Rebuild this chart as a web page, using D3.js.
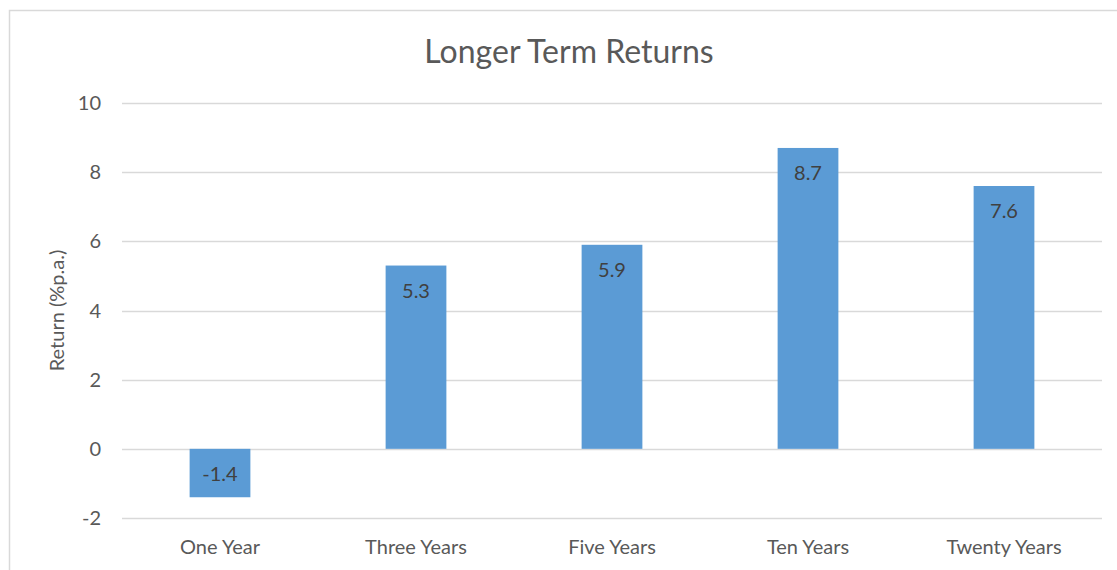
<!DOCTYPE html>
<html>
<head>
<meta charset="utf-8">
<script src="https://cdn.jsdelivr.net/npm/d3@7"></script>
<style>
  body { margin: 0; background: #fff; }
  text { font-family: Lato, "Open Sans", sans-serif; fill: #595959; }
</style>
</head>
<body>
<div id="chart"></div>
<script>
// Chart data
const categories = ["One Year", "Three Years", "Five Years", "Ten Years", "Twenty Years"];
const returns = [-1.4, 5.3, 5.9, 8.7, 7.6];
const yTicks = [-2, 0, 2, 4, 6, 8, 10];

const width = 1117, height = 570;
const margin = { top: 103, right: 15, bottom: 52, left: 122 };

const svg = d3.select("#chart").append("svg")
    .attr("width", width)
    .attr("height", height);

// Chart frame (only top and left edges fall inside the picture)
svg.append("rect")
    .attr("x", 9.5).attr("y", 10.5)
    .attr("width", width + 20).attr("height", height + 20)
    .attr("fill", "none")
    .attr("stroke", "#d9d9d9")
    .attr("stroke-width", 1.5);

const x = d3.scaleBand()
    .domain(categories)
    .range([margin.left, width - margin.right])
    .paddingInner(0.69)
    .paddingOuter(0.345);

const y = d3.scaleLinear()
    .domain([-2, 10])
    .range([height - margin.bottom, margin.top]);

// Gridlines
svg.append("g")
    .selectAll("line")
    .data(yTicks)
    .join("line")
    .attr("x1", margin.left)
    .attr("x2", width - margin.right)
    .attr("y1", d => Math.round(y(d)) + 0.5)
    .attr("y2", d => Math.round(y(d)) + 0.5)
    .attr("stroke", "#d9d9d9")
    .attr("stroke-width", 1.3);

// Y tick labels
svg.append("g")
    .selectAll("text")
    .data(yTicks)
    .join("text")
    .attr("x", 101)
    .attr("y", d => y(d))
    .attr("dy", "0.35em")
    .attr("text-anchor", "end")
    .style("font-size", "20px")
    .text(d => d);

// Bars
svg.append("g")
    .selectAll("rect")
    .data(returns)
    .join("rect")
    .attr("x", (d, i) => x(categories[i]))
    .attr("width", x.bandwidth())
    .attr("y", d => y(Math.max(0, d)))
    .attr("height", d => Math.abs(y(d) - y(0)))
    .attr("fill", "#5b9bd5");

// Value labels inside bars
svg.append("g")
    .selectAll("text")
    .data(returns)
    .join("text")
    .attr("x", (d, i) => x(categories[i]) + x.bandwidth() / 2)
    .attr("y", d => y(Math.max(0, d)) + 25)
    .attr("dy", "0.35em")
    .attr("text-anchor", "middle")
    .style("font-size", "20px")
    .style("fill", "#404040")
    .text(d => d.toFixed(1));

// X category labels
svg.append("g")
    .selectAll("text")
    .data(categories)
    .join("text")
    .attr("x", d => x(d) + x.bandwidth() / 2)
    .attr("y", 547)
    .attr("dy", "0.35em")
    .attr("text-anchor", "middle")
    .style("font-size", "20px")
    .text(d => d);

// Axis title
svg.append("text")
    .attr("transform", `translate(57,${(y(-2) + y(10)) / 2}) rotate(-90)`)
    .attr("dy", "0.35em")
    .attr("text-anchor", "middle")
    .style("font-size", "20px")
    .text("Return (%p.a.)");

// Chart title
svg.append("text")
    .attr("x", 569)
    .attr("y", 52)
    .attr("dy", "0.35em")
    .attr("text-anchor", "middle")
    .style("font-size", "32px")
    .text("Longer Term Returns");
</script>
</body>
</html>
